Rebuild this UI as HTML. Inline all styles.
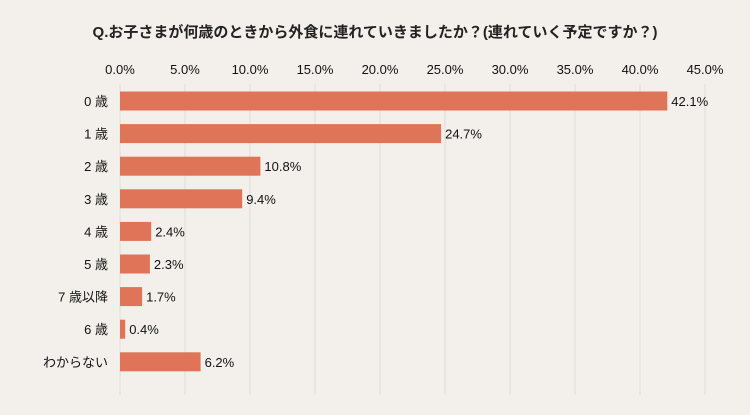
<!DOCTYPE html>
<html><head><meta charset="utf-8"><style>
body{margin:0;background:#f3f0eb;}
svg{display:block;font-family:"Liberation Sans","Noto Sans CJK JP",sans-serif;}
</style></head><body>
<svg width="750" height="415">
<rect width="750" height="415" fill="#f3f0eb"/>
<text x="375" y="37" text-anchor="middle" font-size="15" font-weight="bold" fill="#222">Q.お子さまが何歳のときから外食に連れていきましたか？(連れていく予定ですか？)</text>
<g id="grid"></g><g id="bars"></g>
</svg>
<script>
const categories=["0 歳","1 歳","2 歳","3 歳","4 歳","5 歳","7 歳以降","6 歳","わからない"];
const values=[42.1,24.7,10.8,9.4,2.4,2.3,1.7,0.4,6.2];
const ticks=[0,5,10,15,20,25,30,35,40,45];
const x=v=>120+v*13;
const y=i=>101+i*32.6;
const ns="http://www.w3.org/2000/svg";
const g=document.getElementById('grid'),b=document.getElementById('bars');
function mk(t,a,p){const e=document.createElementNS(ns,t);for(const k in a)e.setAttribute(k,a[k]);p.appendChild(e);return e;}
ticks.forEach(t=>{
 const l=mk('line',{x1:x(t),x2:x(t),y1:84,y2:395,stroke:'#dedbd6','stroke-width':1},g);
 
 
 const tx=mk('text',{x:x(t),y:74,'text-anchor':'middle','font-size':13,fill:'#111'},g);
 tx.textContent=t.toFixed(1)+'%';
 
 
});
categories.forEach((c,i)=>{
 const r=mk('rect',{x:x(0),y:y(i)-9.5,width:x(values[i])-x(0),height:19,fill:'#df7459'},b);
 
 
 const l=mk('text',{x:108,y:y(i)+5,'text-anchor':'end','font-size':13,fill:'#111'},b);
 l.textContent=c;
 
 
 const v=mk('text',{x:x(values[i])+4,y:y(i)+5,'font-size':13,fill:'#111'},b);
 v.textContent=values[i].toFixed(1)+'%';
 
 
});
</script>
</body></html>
